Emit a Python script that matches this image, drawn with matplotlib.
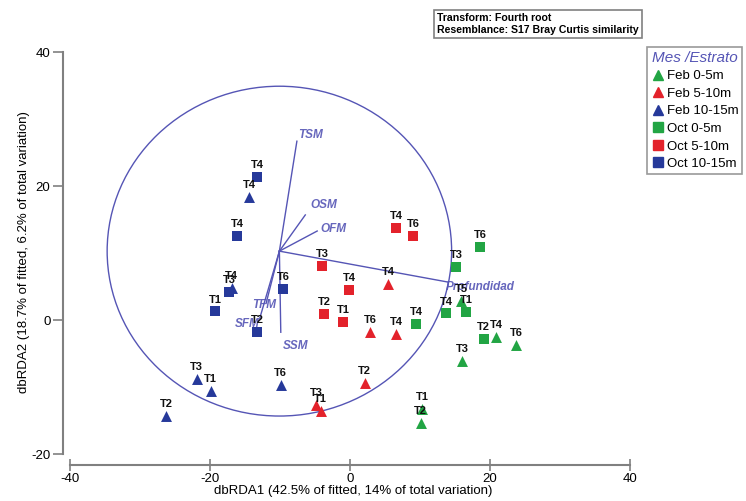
import matplotlib
matplotlib.use("Agg")
import matplotlib.pyplot as plt
from matplotlib.patches import Circle
from matplotlib.lines import Line2D

plt.rcParams['font.family'] = ['Liberation Sans', 'DejaVu Sans']
plt.rcParams['axes.unicode_minus'] = False

# sample scores (dbRDA1, dbRDA2) and station labels
feb_0_5_x = [15.9, 20.9, 23.7, 16.0, 10.3, 10.1]
feb_0_5_y = [2.8, -2.5, -3.7, -6.1, -13.3, -15.4]
feb_0_5_lab = ["T5", "T4", "T6", "T3", "T1", "T2"]

feb_5_10_x = [5.4, 2.9, 6.6, 2.1, -4.8, -4.2]
feb_5_10_y = [5.4, -1.8, -2.1, -9.4, -12.7, -13.6]
feb_5_10_lab = ["T4", "T6", "T4", "T2", "T3", "T1"]

feb_10_15_x = [-14.4, -16.9, -21.9, -19.9, -26.3, -9.9]
feb_10_15_y = [18.4, 4.8, -8.7, -10.6, -14.3, -9.6]
feb_10_15_lab = ["T4", "T4", "T3", "T1", "T2", "T6"]

oct_0_5_x = [18.6, 15.1, 13.7, 16.6, 9.4, 19.1]
oct_0_5_y = [10.9, 7.9, 1.0, 1.2, -0.5, -2.8]
oct_0_5_lab = ["T6", "T3", "T4", "T1", "T4", "T2"]

oct_5_10_x = [6.6, 9.0, -4.0, -0.1, -3.7, -1.0]
oct_5_10_y = [13.7, 12.5, 8.1, 4.5, 0.9, -0.3]
oct_5_10_lab = ["T4", "T6", "T3", "T4", "T2", "T1"]

oct_10_15_x = [-13.3, -16.1, -17.3, -19.3, -13.3, -9.6]
oct_10_15_y = [21.3, 12.5, 4.2, 1.3, -1.8, 4.6]
oct_10_15_lab = ["T4", "T4", "T3", "T1", "T2", "T6"]

# vector overlay
vec_origin = (-10.1, 10.3)
vec_names = ["TSM", "OSM", "OFM", "Profundidad", "TFM", "SFM", "SSM"]
vec_end_x = [-7.6, -6.4, -4.7, 13.9, -12.0, -12.9, -9.9]
vec_end_y = [26.7, 15.7, 13.3, 5.7, 2.5, 0.3, -1.8]
vec_lab_x = [-7.4, -5.7, -4.3, 13.6, -14.0, -16.4, -9.6]
vec_lab_y = [27.6, 17.2, 13.6, 4.9, 2.2, -0.6, -3.9]
circle_radius = 24.6

green = "#22a544"
red = "#e3222b"
blue = "#26399a"
vec_col = "#5555b5"

groups = [
    ("Feb 0-5m", feb_0_5_x, feb_0_5_y, feb_0_5_lab, "^", green),
    ("Feb 5-10m", feb_5_10_x, feb_5_10_y, feb_5_10_lab, "^", red),
    ("Feb 10-15m", feb_10_15_x, feb_10_15_y, feb_10_15_lab, "^", blue),
    ("Oct 0-5m", oct_0_5_x, oct_0_5_y, oct_0_5_lab, "s", green),
    ("Oct 5-10m", oct_5_10_x, oct_5_10_y, oct_5_10_lab, "s", red),
    ("Oct 10-15m", oct_10_15_x, oct_10_15_y, oct_10_15_lab, "s", blue),
]

fig = plt.figure(figsize=(7.46, 5.01), dpi=100)
ax = fig.add_axes([0.0845, 0.0719, 0.779, 0.851])
ax.set_xlim(-41, 42)
ax.set_ylim(-21.6, 42)

ax.add_patch(Circle(vec_origin, circle_radius, fill=False, ec=vec_col, lw=1.0))
for name, ex, ey, lx, ly in zip(vec_names, vec_end_x, vec_end_y, vec_lab_x, vec_lab_y):
    ax.plot([vec_origin[0], ex], [vec_origin[1], ey], color=vec_col, lw=1.0)
    ax.text(lx, ly, name, color=vec_col, fontsize=8.5, style="italic",
            fontweight="bold", ha="left", va="center", alpha=0.9)

handles = []
for name, xs, ys, labs, mk, col in groups:
    ax.scatter(xs, ys, marker=mk, s=62, color=col, zorder=3, linewidths=0)
    for x, y, lab in zip(xs, ys, labs):
        ax.annotate(lab, (x, y), xytext=(0, 5), textcoords="offset points",
                    ha="center", va="bottom", fontsize=8, fontweight="bold",
                    color="#111111", zorder=4)
    handles.append(Line2D([], [], marker=mk, color=col, ls="", markersize=7,
                          label=name))

for s in ["top", "right"]:
    ax.spines[s].set_visible(False)
ax.spines["left"].set_bounds(-20, 40)
ax.spines["bottom"].set_bounds(-40, 40)
for s in ["left", "bottom"]:
    ax.spines[s].set_color("#808080")
    ax.spines[s].set_linewidth(1.5)
ax.set_xticks([-40, -20, 0, 20, 40])
ax.set_yticks([-20, 0, 20, 40])
ax.tick_params(axis="x", direction="inout", length=9, width=1.2, color="#808080",
               labelsize=9.5, pad=1)
ax.tick_params(axis="y", direction="out", length=7, width=1.2, color="#808080",
               labelsize=9.5, pad=2)
ax.set_xlabel("dbRDA1 (42.5% of fitted, 14% of total variation)", fontsize=9.5,
              labelpad=0)
ax.set_ylabel("dbRDA2 (18.7% of fitted, 6.2% of total variation)", fontsize=9.5,
              labelpad=1)

leg = fig.legend(handles=handles, loc="upper left",
                 bbox_to_anchor=(647 / 746, 1 - 47 / 501), fontsize=9.5,
                 title="Mes /Estrato", frameon=True, fancybox=False,
                 handletextpad=0.2, handlelength=1.0, borderpad=0.3,
                 labelspacing=0.4, borderaxespad=0)
leg.get_title().set_color(vec_col)
leg.get_title().set_fontstyle("italic")
leg.get_title().set_fontsize(11)
leg.get_frame().set_edgecolor("#808080")
leg.get_frame().set_linewidth(1.2)

fig.text(437 / 746, 1 - 13 / 501,
         "Transform: Fourth root\nResemblance: S17 Bray Curtis similarity",
         fontsize=7.6, fontweight="bold", ha="left", va="top", linespacing=1.25,
         bbox=dict(boxstyle="square,pad=0.3", fc="white", ec="#808080", lw=1.2))

fig.savefig("out.png", dpi=100)
